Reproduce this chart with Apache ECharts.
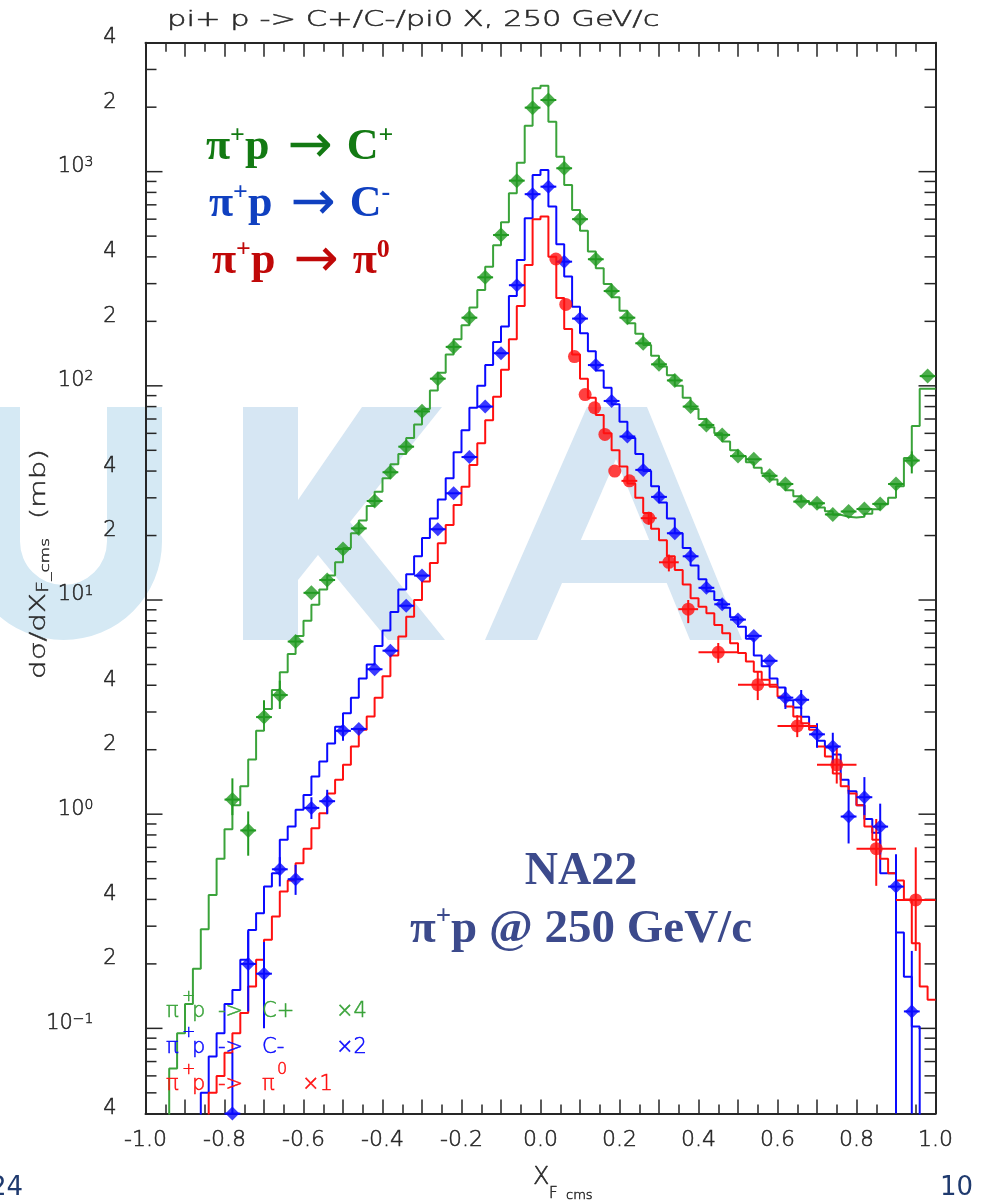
<!DOCTYPE html>
<html><head><meta charset="utf-8">
<script src="https://cdn.jsdelivr.net/npm/echarts@6/dist/echarts.min.js"></script>
<style>html,body{margin:0;padding:0;background:#fff}#c{width:982px;height:1200px}</style>
</head><body><div id="c"></div>
<script>
// ---------- DATA ----------
const binStart = -1.0, binWidth = 0.02;
// MC histograms (100 bins of 0.02 from -1 to 1)
const histCplus = [0.01,0.01,0.01,0.065,0.095,0.13,0.19,0.29,0.42,0.62,
  0.85,1.1,1.35,1.8,2.45,3.1,3.8,4.6,5.6,6.8,
  8,9.5,11.2,13,15,17.5,20.5,23.5,27.5,32,
  37,43,48,57,66,78,95,115,140,165,
  192,232,280,360,453,581,793,1101,1640,2450,
  2520,1711,1175,866,662,530,424,354,299,259,
  224,196,175,155,138,123,112,100,88,78,
  70,64,60,55,50,47,44,41.5,39,36.5,
  34.5,32.5,30.5,29,28,27,26,25,24.5,24.3,
  24.5,25.3,26.5,28,30,34,46,65,97,97];
const histCminus = [0.01,0.01,0.01,0.01,0.01,0.01,0.01,0.05,0.074,0.095,
  0.13,0.151,0.209,0.288,0.345,0.459,0.53,0.76,0.875,1.05,
  1.23,1.5,1.76,2.14,2.56,2.96,3.5,4.3,5.0,6.1,
  7.2,8.8,11.2,13.2,16,19.5,24,29.5,37,49,
  62,79,100,125,160,189,263,387,606,965,
  1018,687,458,324,234,176,145,118,98,82,
  68,57,48,40,34,28.5,24,20.5,17.5,14.5,
  12.5,11,10,9.2,8.3,7.5,6.6,5.5,4.9,4.3,
  3.9,3.4,3.15,2.85,2.55,2.2,2.05,1.9,1.45,1.28,
  1.1,0.95,0.82,0.53,0.53,0.28,0.174,0.102,0.01,0.01];
const histPi0 = [0.01,0.01,0.01,0.01,0.01,0.01,0.01,0.01,0.05,0.06,
  0.077,0.095,0.118,0.157,0.209,0.259,0.333,0.435,0.49,0.59,
  0.69,0.86,1.01,1.25,1.45,1.7,2.07,2.48,2.86,3.5,
  4.4,5.5,6.75,8.36,10,12.2,14.9,18.4,22.4,27.8,
  33.8,42.7,54,69,89,119,165,236,367,600,
  617,401,257,184,140,108,88,73,60,50,
  42,35,30,25.5,21.5,19,16,13.8,11.8,10.2,
  9.3,8.68,7.65,7.0,6.29,5.65,5.16,4.63,4.24,3.94,
  3.54,3.18,2.86,2.66,2.48,2.07,1.86,1.55,1.35,1.25,
  1.1,0.875,0.76,0.62,0.53,0.49,0.4,0.25,0.157,0.136];

// NA22 data points
const cpX = [-0.78,-0.74,-0.70,-0.66,-0.62,-0.58,-0.54,-0.50,-0.46,-0.42,-0.38,-0.34,-0.30,-0.26,-0.22,-0.18,-0.14,-0.10,-0.06,-0.02,
  0.02,0.06,0.10,0.14,0.18,0.22,0.26,0.30,0.34,0.38,0.42,0.46,0.50,0.54,0.58,0.62,0.66,0.70,0.74,0.78,0.82,0.86,0.90,0.94,0.98];
const cpY = [1.17,0.84,2.84,3.6,6.4,10.8,12.4,17.3,21.6,29,39.5,52,76,108,152,208,321,506,908,1990,
  2160,1037,600,390,277,208,158,126,106,80,65.6,59,47,45.4,38,34.8,28.8,28.3,25.1,25.9,26.6,28.1,34.8,44.8,111];
const cpErrLo = [0.99,0.64,2.66,3.1,null,null,null,null,null,null,null,null,null,null,null,null,null,null,null,null,
  null,null,null,null,null,null,null,null,null,null,null,null,null,null,null,null,null,null,null,null,null,null,null,39,null];
const cpErrHi = [1.47,1.03,3.4,4.2,null,null,null,null,null,null,null,null,null,null,null,null,null,null,null,null,
  null,null,null,null,null,null,null,null,null,null,null,null,null,null,null,null,null,null,null,null,null,null,null,49.4,null];

const cmX = [-0.78,-0.74,-0.70,-0.66,-0.62,-0.58,-0.54,-0.50,-0.46,-0.42,-0.38,-0.34,-0.30,-0.26,-0.22,-0.18,-0.14,-0.10,-0.06,-0.02,
  0.02,0.06,0.10,0.14,0.18,0.22,0.26,0.30,0.34,0.38,0.42,0.46,0.50,0.54,0.58,0.62,0.66,0.70,0.74,0.78,0.82,0.86,0.90,0.94];
const cmY = [0.04,0.20,0.18,0.553,0.497,1.07,1.15,2.45,2.5,4.75,5.8,9.4,13,21.4,31.5,46.5,80,142,295,785,
  851,380,206,125,85,58,40.5,30.3,20.5,16,11.4,9.55,8.1,6.8,5.2,3.5,3.42,2.36,2.07,0.975,1.2,0.875,0.459,0.12];
const cmErrLo = [0.03,0.12,0.10,0.46,0.42,0.95,1.0,2.2,null,null,null,null,null,null,null,null,null,null,null,null,
  null,null,null,null,null,null,null,null,null,null,null,null,null,null,null,3.1,3.1,2.04,1.73,0.73,0.99,0.65,0.03,0.03];
const cmErrHi = [0.077,0.284,0.253,0.63,0.58,1.2,1.3,2.75,null,null,null,null,null,null,null,null,null,null,null,null,
  null,null,null,null,null,null,null,null,null,null,null,null,null,null,null,3.9,3.8,2.66,2.4,1.3,1.49,1.12,0.65,0.23];

const pi0X = [0.039,0.064,0.086,0.113,0.137,0.163,0.188,0.225,0.274,0.325,0.374,0.45,0.55,0.65,0.75,0.85,0.95];
const pi0Y = [391,240,137,91,79,59.3,40,36,24.1,15,9.06,5.7,4.02,2.58,1.70,0.69,0.398];
const pi0XErr = [0,0,0,0,0,0,0,0.02,0.02,0.025,0.025,0.05,0.05,0.05,0.05,0.05,0.05];
const pi0ErrLo = [null,null,null,null,null,null,null,null,22.5,13.6,7.8,5.09,3.41,2.29,1.39,0.463,0.23];
const pi0ErrHi = [null,null,null,null,null,null,null,null,25.8,16.3,10.0,6.3,4.61,2.90,2.04,0.95,0.70];
const cXErr = 0.02;

// axis ticks / labels
const yMinorTicks = [0.05,0.06,0.07,0.08,0.09,0.2,0.3,0.4,0.5,0.6,0.7,0.8,0.9,2,3,4,5,6,7,8,9,
  20,30,40,50,60,70,80,90,200,300,400,500,600,700,800,900,2000,3000];
const yMajorTicks = [0.1,1,10,100,1000];
const yLabelVals = [4000,2000,1000,400,200,100,40,20,10,4,2,1,0.4,0.2,0.1,0.04];
const yLabelText = ['4','2','10{s|3}','4','2','10{s|2}','4','2','10{s|1}','4','2','10{s|0}','4','2','10{s|−1}','4'];

// ---------- CHART ----------
const chart = echarts.init(document.getElementById('c'), null, {renderer:'canvas'});
const AX = '#262626';
const PAWF = "'DejaVu Sans'";
const SERIF = "'Liberation Serif', 'Times New Roman', serif";
const GREEN_M = '#229a22', GREEN_L = '#3aa33a';
const BLUE = '#0a0aff', RED = '#ff1010';

function histData(vals){
  const d = [];
  for (let i = 0; i < vals.length; i++) d.push([+(binStart + i*binWidth).toFixed(2), vals[i]]);
  d.push([+(binStart + vals.length*binWidth).toFixed(2), vals[vals.length-1]]);
  return d;
}
function pts(xs, ys){ return xs.map((x,i)=>[x, ys[i]]); }
function errData(xs, ys, xe, lo, hi){
  return xs.map((x,i)=>[x, ys[i], Array.isArray(xe)?xe[i]:xe, lo[i]==null?-1:lo[i], hi[i]==null?-1:hi[i]]);
}
function errRender(color){
  return function(params, api){
    const cs = params.coordSys;
    const x = api.value(0), y = api.value(1), xe = api.value(2), lo = api.value(3), hi = api.value(4);
    const c = api.coord([x, y]);
    const ch = [];
    const clampY = v => Math.max(cs.y, Math.min(cs.y + cs.height, v));
    const clampX = v => Math.max(cs.x, Math.min(cs.x + cs.width, v));
    if (xe > 0){
      const a = api.coord([x - xe, y]), b = api.coord([x + xe, y]);
      ch.push({type:'line', shape:{x1:clampX(a[0]), y1:c[1], x2:clampX(b[0]), y2:c[1]}, style:{stroke:color, lineWidth:2}});
    }
    if (lo > 0 && hi > 0){
      const a = api.coord([x, hi]), b = api.coord([x, lo]);
      ch.push({type:'line', shape:{x1:c[0], y1:clampY(a[1]), x2:c[0], y2:clampY(b[1])}, style:{stroke:color, lineWidth:2}});
    }
    return {type:'group', children: ch};
  };
}
// thin PAW-like text element
function paw(x, y, text, size, color, extra){
  return Object.assign({type:'text', z:50, x:x, y:y, silent:true,
    style:{text:text, font:'200 ' + size + 'px ' + PAWF, fill:color, stroke:color, lineWidth:0.5, textVerticalAlign:'middle'}}, extra || {});
}

const tickData = yMinorTicks.map(v=>[0, v, 0]).concat(yMajorTicks.map(v=>[0, v, 1]));
const labelData = yLabelVals.map((v,i)=>[0, v, i]);

function annot(x, y, parts, color){
  return {type:'text', z:60, x:x, y:y, silent:true, style:{text: parts, textVerticalAlign:'middle',
    rich:{a:{font:"bold 44px "+SERIF, fill:color, lineHeight:50},
          s:{font:"bold 26px "+SERIF, fill:color, verticalAlign:'top', lineHeight:50, padding:[0,0,14,0]},
          r:{font:"54px 'DejaVu Sans'", fill:color, lineHeight:50, verticalAlign:'middle', padding:[0,14,0,18]}}}};
}

const option = {
  animation: false,
  backgroundColor: '#ffffff',
  grid: {left: 145.5, right: 46.5, top: 42.7, bottom: 86.4, containLabel: false},
  xAxis: [
    {type:'value', min:-1, max:1, interval:0.1, position:'bottom',
     axisLine:{show:true, onZero:false, lineStyle:{color:AX, width:2}},
     axisTick:{show:true, inside:true, length:14, lineStyle:{color:AX, width:1.5}},
     minorTick:{show:true, splitNumber:2, length:9, lineStyle:{color:AX, width:1.5}},
     splitLine:{show:false}, minorSplitLine:{show:false},
     axisLabel:{show:true, showMinLabel:true, showMaxLabel:true, margin:16, fontSize:22, fontFamily:'DejaVu Sans', fontWeight:200, color:AX,
       textBorderColor:AX, textBorderWidth:0.5,
       formatter: v => { const k = Math.round(v*10); if (k % 2 !== 0) return ''; return k === 0 ? '0.0' : (k/10).toFixed(1); }}},
    {type:'value', min:-1, max:1, interval:0.1, position:'top',
     axisLine:{show:true, onZero:false, lineStyle:{color:AX, width:2}},
     axisTick:{show:true, inside:true, length:14, lineStyle:{color:AX, width:1.5}},
     minorTick:{show:true, splitNumber:2, length:9, lineStyle:{color:AX, width:1.5}},
     splitLine:{show:false}, axisLabel:{show:false}}
  ],
  yAxis: [
    {type:'log', logBase:10, min:0.04, max:4000, position:'left',
     axisLine:{show:true, onZero:false, lineStyle:{color:AX, width:2}}, axisTick:{show:false}, axisLabel:{show:false}, splitLine:{show:false}},
    {type:'log', logBase:10, min:0.04, max:4000, position:'right',
     axisLine:{show:true, onZero:false, lineStyle:{color:AX, width:2}}, axisTick:{show:false}, axisLabel:{show:false}, splitLine:{show:false}}
  ],
  graphic: [
    // FLUKA watermark
    {type:'rect', z:-5, silent:true, shape:{x:-35, y:407, width:55, height:135}, style:{fill:'#d5e9f4'}},
    {type:'rect', z:-5, silent:true, shape:{x:107, y:407, width:55, height:135}, style:{fill:'#d5e9f4'}},
    {type:'sector', z:-5, silent:true, shape:{cx:63.5, cy:541.5, r:98.5, r0:43.5, startAngle:0, endAngle:Math.PI}, style:{fill:'#d5e9f4'}},
    {type:'rect', z:-5, silent:true, shape:{x:243, y:407, width:55, height:233}, style:{fill:'#d6e6f3'}},
    {type:'polygon', z:-5, silent:true, shape:{points:[[298,500],[362,407],[442,407],[350,522],[445,640],[388,640],[318,555],[298,580]]}, style:{fill:'#d6e6f3'}},
    {type:'polygon', z:-5, silent:true, shape:{points:[[587,407],[647,407],[742,640],[690,640],[666.7,583],[562,583],[537,640],[485,640]]}, style:{fill:'#d6e6f3'}},
    {type:'polygon', z:-4, silent:true, shape:{points:[[616,459],[649.2,540],[580.8,540]]}, style:{fill:'#ffffff'}},

    // title
    paw(167, 20, 'pi+ p -> C+/C-/pi0 X, 250 GeV/c', 22, '#2a2a2a', {scaleX:1.39}),
    // y axis title
    {type:'text', z:50, x:40, y:564, rotation:Math.PI/2, scaleX:1.4, silent:true, style:{text:'dσ/dX{f|F}{c|_cms}  (mb)', font:"200 21px 'DejaVu Sans'", fill:'#2a2a2a', stroke:'#2a2a2a', lineWidth:0.4, textAlign:'center', textVerticalAlign:'middle',
      rich:{f:{font:"200 15px 'DejaVu Sans'", fill:'#2a2a2a', verticalAlign:'bottom', padding:[9,0,0,0]}, c:{font:"200 12px 'DejaVu Sans'", fill:'#2a2a2a', verticalAlign:'bottom', padding:[12,0,0,0]}}}},
    // x axis title
    paw(533, 1178, 'X', 24, '#2a2a2a'),
    paw(549, 1194, 'F', 15, '#2a2a2a'),
    paw(566, 1196, 'cms', 13, '#2a2a2a'),

    // PAW legend
    paw(166, 1012, 'π', 21, GREEN_L), paw(182, 997, '+', 16, GREEN_L), paw(192, 1012, 'p', 21, GREEN_L),
    paw(218, 1012, '->', 21, GREEN_L), paw(262, 1012, 'C+', 21, GREEN_L), paw(336, 1012, '×4', 21, GREEN_L),
    paw(166, 1048, 'π', 21, BLUE), paw(182, 1033, '+', 16, BLUE), paw(192, 1048, 'p', 21, BLUE),
    paw(218, 1048, '->', 21, BLUE), paw(262, 1048, 'C-', 21, BLUE), paw(336, 1048, '×2', 21, BLUE),
    paw(166, 1085, 'π', 21, RED), paw(182, 1070, '+', 16, RED), paw(192, 1085, 'p', 21, RED),
    paw(218, 1085, '->', 21, RED), paw(262, 1085, 'π', 21, RED), paw(277, 1070, '0', 16, RED), paw(302, 1085, '×1', 21, RED),

    // slide annotations
    annot(206, 148, '{a|π}{s|+}{a|p}{r|→}{a|C}{s|+}', '#137a13'),
    annot(209, 205, '{a|π}{s|+}{a|p}{r|→}{a|C}{s|-}', '#1040c0'),
    annot(212, 262, '{a|π}{s|+}{a|p}{r|→}{a|π}{s|0}', '#c00808'),
    {type:'text', z:60, x:581, y:872, silent:true, style:{text:'NA22', font:"bold 46px "+SERIF, fill:'#3c4a8c', textAlign:'center', textVerticalAlign:'middle'}},
    {type:'text', z:60, x:581, y:930, silent:true, style:{text:'{a|π}{s|+}{a|p @ 250 GeV/c}', textAlign:'center', textVerticalAlign:'middle',
      rich:{a:{font:"bold 47px "+SERIF, fill:'#3c4a8c', lineHeight:52}, s:{font:"bold 27px "+SERIF, fill:'#3c4a8c', verticalAlign:'top', lineHeight:52, padding:[0,0,18,0]}}}},
    // slide numbers
    {type:'text', z:60, x:23, y:1188, silent:true, style:{text:'24', font:"26px 'DejaVu Sans'", fill:'#1f3a6e', textAlign:'right', textVerticalAlign:'middle'}},
    {type:'text', z:60, x:940, y:1188, silent:true, style:{text:'10', font:"26px 'DejaVu Sans'", fill:'#1f3a6e', textVerticalAlign:'middle'}}
  ],
  series: [
    // y axis ticks (log minor ticks) on both sides
    {type:'custom', name:'yticks', silent:true, xAxisIndex:0, yAxisIndex:0, encode:{x:0, y:1}, data: tickData, z:5,
     renderItem: function(params, api){
       const cs = params.coordSys;
       const v = api.value(1), major = api.value(2) === 1;
       const y = api.coord([0, v])[1];
       const len = major ? 17 : 11;
       return {type:'group', children:[
         {type:'line', shape:{x1:cs.x, y1:y, x2:cs.x + len, y2:y}, style:{stroke:AX, lineWidth:1.5}},
         {type:'line', shape:{x1:cs.x + cs.width - len, y1:y, x2:cs.x + cs.width, y2:y}, style:{stroke:AX, lineWidth:1.5}}
       ]};
     }},
    // y axis labels
    {type:'custom', name:'ylabels', silent:true, xAxisIndex:0, yAxisIndex:0, encode:{x:0, y:1}, data: labelData, z:5, clip:false,
     renderItem: function(params, api){
       const cs = params.coordSys;
       const v = api.value(1), idx = api.value(2);
       const y = api.coord([0, v])[1];
       const txt = yLabelText[idx];
       const isDec = txt.indexOf('{') >= 0;
       return {type:'text', x: cs.x - (isDec ? 52 : 29), y: y - 5,
         style:{text: txt, font:"200 21px 'DejaVu Sans'", fill:AX, stroke:AX, lineWidth:0.5, textAlign:'right', textVerticalAlign:'middle',
           rich:{s:{font:"200 14px 'DejaVu Sans'", fill:AX, verticalAlign:'top', padding:[0,0,8,0]}}}};
     }},
    // MC histograms
    {type:'line', name:'C+ MC', step:'end', showSymbol:false, symbol:'none', data: histData(histCplus), lineStyle:{color:GREEN_L, width:2}, z:10, clip:true},
    {type:'line', name:'C- MC', step:'end', showSymbol:false, symbol:'none', data: histData(histCminus), lineStyle:{color:BLUE, width:2}, z:10, clip:true},
    {type:'line', name:'pi0 MC', step:'end', showSymbol:false, symbol:'none', data: histData(histPi0), lineStyle:{color:RED, width:2}, z:10, clip:true},
    // error bars
    {type:'custom', name:'C+ err', silent:true, encode:{x:0, y:1}, data: errData(cpX, cpY, cXErr, cpErrLo, cpErrHi), renderItem: errRender(GREEN_M), z:12},
    {type:'custom', name:'C- err', silent:true, encode:{x:0, y:1}, data: errData(cmX, cmY, cXErr, cmErrLo, cmErrHi), renderItem: errRender(BLUE), z:12},
    {type:'custom', name:'pi0 err', silent:true, encode:{x:0, y:1}, data: errData(pi0X, pi0Y, pi0XErr, pi0ErrLo, pi0ErrHi), renderItem: errRender(RED), z:12},
    // data markers
    {type:'scatter', name:'C+ data', symbol:'diamond', symbolSize:15, data: pts(cpX, cpY), itemStyle:{color:GREEN_M}, z:14},
    {type:'scatter', name:'C- data', symbol:'diamond', symbolSize:14, data: pts(cmX, cmY), itemStyle:{color:BLUE}, z:14},
    {type:'scatter', name:'pi0 data', symbol:'circle', symbolSize:13, data: pts(pi0X, pi0Y), itemStyle:{color:RED}, z:14}
  ]
};
chart.setOption(option);
</script>
</body></html>
